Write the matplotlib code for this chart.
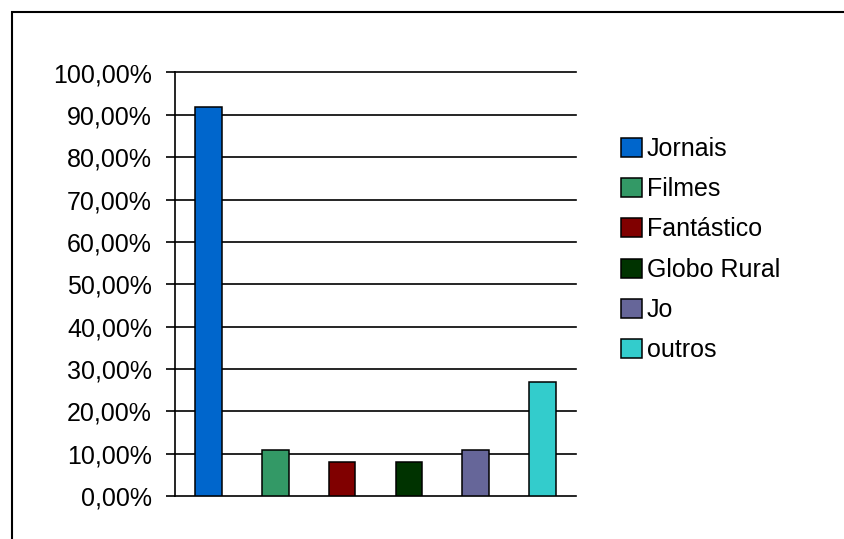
import matplotlib.pyplot as plt
from matplotlib.patches import Rectangle
from matplotlib.ticker import FuncFormatter

# Data (share of answers)
programas = ['Jornais', 'Filmes', 'Fantástico', 'Globo Rural', 'Jo', 'outros']
percentuais = [91.89, 10.81, 8.11, 8.11, 10.81, 27.03]
cores = ['#0066CC', '#339966', '#800000', '#003300', '#666699', '#33CCCC']
y_ticks = [0, 10, 20, 30, 40, 50, 60, 70, 80, 90, 100]

plt.rcParams['font.family'] = ['Liberation Sans', 'DejaVu Sans']

fig = plt.figure(figsize=(8.45, 5.39), dpi=100)
ax = fig.add_axes([175 / 845, 1 - 496 / 539, (576 - 175) / 845, (496 - 72.5) / 539])

# one bar per programme, each its own series so the legend lists them
for i, (nome, valor, cor) in enumerate(zip(programas, percentuais, cores)):
    ax.bar(i, valor, width=0.4, color=cor, edgecolor='black', linewidth=1.1,
           label=nome, zorder=3)

ax.set_xlim(-0.5, len(programas) - 0.5)
ax.set_ylim(0, 100)
ax.set_yticks(y_ticks)
ax.yaxis.set_major_formatter(FuncFormatter(lambda v, p: f'{v:.2f}%'.replace('.', ',')))
ax.set_xticks([])
ax.tick_params(axis='y', length=6.5, width=1.2, direction='out', pad=10,
               labelsize=18, colors='black')
ax.yaxis.grid(True, color='black', linewidth=1.2)
ax.set_axisbelow(True)
# keep the 100% line visible at the top edge
for gl in ax.get_ygridlines():
    gl.set_clip_on(False)
for s in ['top', 'right', 'bottom']:
    ax.spines[s].set_visible(False)
ax.spines['left'].set_linewidth(1.2)
ax.spines['left'].set_zorder(4)

leg = fig.legend(loc='upper left', bbox_to_anchor=(621 / 845, 1 - 137 / 539),
                 frameon=False, fontsize=18, handlelength=0.82, handleheight=0.8,
                 handletextpad=0.22, labelspacing=0.65, borderpad=0, borderaxespad=0)

# outer chart border (only left and top edges fall inside the image)
fig.patches.append(Rectangle((12 / 845, -0.1), 1.0, 1.1 - 12.5 / 539,
                             transform=fig.transFigure, fill=False,
                             edgecolor='black', linewidth=1.5))

fig.savefig('out.png', dpi=100)
